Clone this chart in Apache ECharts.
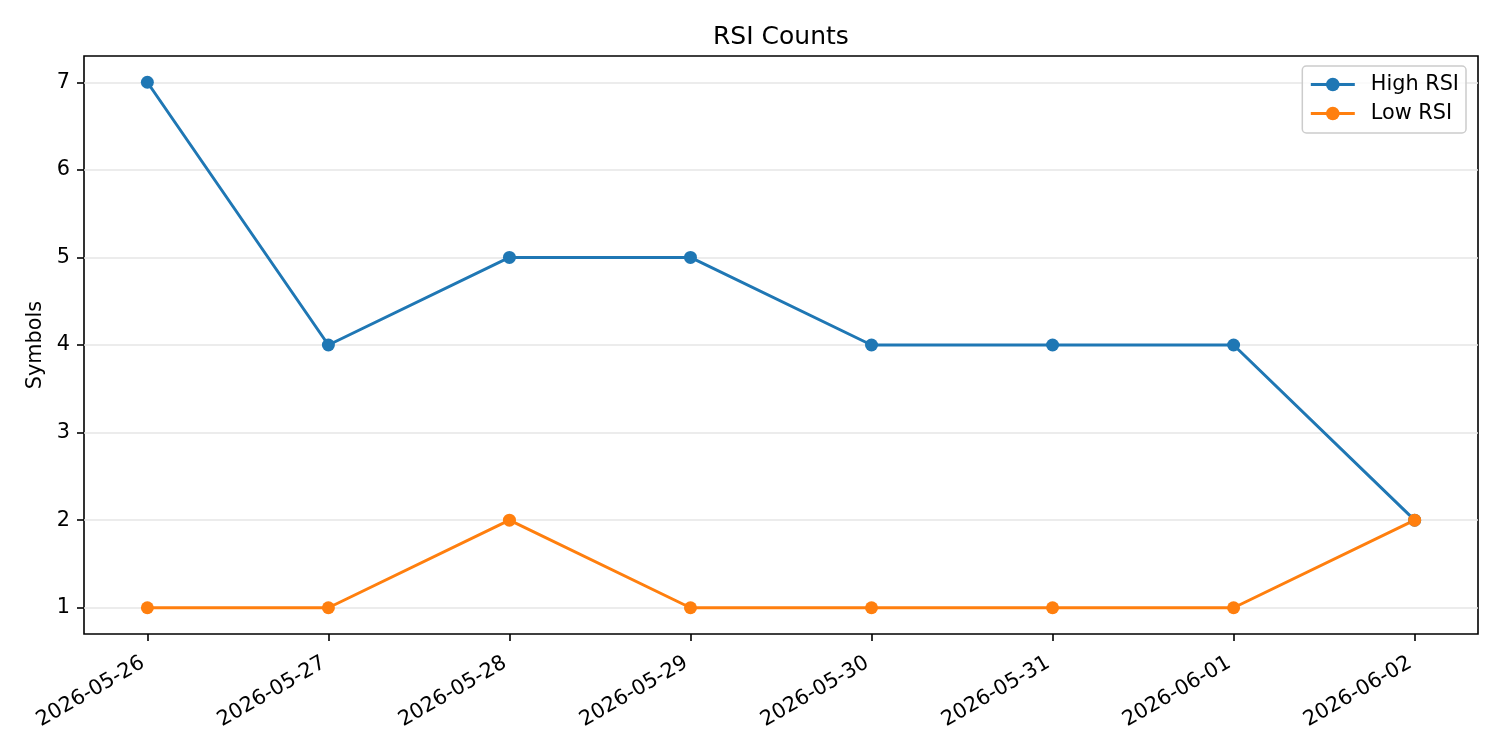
<!DOCTYPE html>
<html>
<head>
<meta charset="utf-8">
<script src="https://cdn.jsdelivr.net/npm/echarts@6/dist/echarts.min.js"></script>
<style>
  html, body { margin: 0; padding: 0; background: #fff; }
  #chart { width: 1500px; height: 750px; }
</style>
</head>
<body>
<div id="chart"></div>
<script>
// data
const dates = ["2026-05-26", "2026-05-27", "2026-05-28", "2026-05-29",
  "2026-05-30", "2026-05-31", "2026-06-01", "2026-06-02"];
const highRsi = [7, 4, 5, 5, 4, 4, 4, 2];
const lowRsi = [1, 1, 2, 1, 1, 1, 1, 2];
const yTicks = [1, 2, 3, 4, 5, 6, 7];

const font = "DejaVu Sans";
const xIdx = dates.map((d, i) => i);
const toPairs = (arr) => arr.map((v, i) => [i, v]);

const chart = echarts.init(document.getElementById("chart"));

chart.setOption({
  animation: false,
  textStyle: { fontFamily: font },
  title: {
    text: "RSI Counts",
    left: 708,
    top: 20,
    textStyle: { fontFamily: font, fontSize: 25, fontWeight: "normal", color: "#000" },
  },
  legend: {
    orient: "vertical",
    right: 34,
    top: 66,
    padding: [8, 7, 9, 7],
    itemGap: 8,
    itemWidth: 44,
    itemHeight: 17,
    borderColor: "#cccccc",
    borderWidth: 1.5,
    borderRadius: 4,
    backgroundColor: "rgba(255,255,255,0.8)",
    lineStyle: { width: 3 },
    textStyle: { fontFamily: font, fontSize: 20.8, color: "#000", padding: [0, 0, 0, 11] },
    data: ["High RSI", "Low RSI"],
  },
  grid: {
    left: 84,
    right: 22,
    top: 56,
    bottom: 116,
    show: true,
    borderColor: "#000",
    borderWidth: 1.6,
  },
  xAxis: {
    type: "value",
    min: -0.35,
    max: 7.35,
    axisLine: { show: false, onZero: false },
    splitLine: { show: false },
    axisTick: {
      customValues: xIdx,
      length: 7,
      lineStyle: { color: "#000", width: 1.6 },
    },
    axisLabel: {
      customValues: xIdx,
      rotate: 30,
      margin: 25,
      padding: [0, 5, 0, 0],
      fontFamily: font,
      fontSize: 20.8,
      color: "#000",
      formatter: (v) => dates[Math.round(v)],
    },
  },
  yAxis: {
    type: "value",
    min: 0.7,
    max: 7.3,
    splitNumber: 6,
    name: "Symbols",
    nameLocation: "middle",
    nameGap: 35,
    nameTextStyle: { fontFamily: font, fontSize: 20.8, color: "#000" },
    axisLine: { show: false, onZero: false },
    splitLine: { lineStyle: { color: "#e6e6e6", width: 1.5 } },
    axisTick: {
      customValues: yTicks,
      length: 7,
      lineStyle: { color: "#000", width: 1.6 },
    },
    axisLabel: {
      customValues: yTicks,
      margin: 14,
      fontFamily: font,
      fontSize: 20.8,
      color: "#000",
    },
  },
  series: [
    {
      name: "High RSI",
      type: "line",
      data: toPairs(highRsi),
      symbol: "circle",
      symbolSize: 13,
      itemStyle: { color: "#1f77b4" },
      lineStyle: { color: "#1f77b4", width: 3 },
    },
    {
      name: "Low RSI",
      type: "line",
      data: toPairs(lowRsi),
      symbol: "circle",
      symbolSize: 13,
      itemStyle: { color: "#ff7f0e" },
      lineStyle: { color: "#ff7f0e", width: 3 },
    },
  ],
});
</script>
</body>
</html>
